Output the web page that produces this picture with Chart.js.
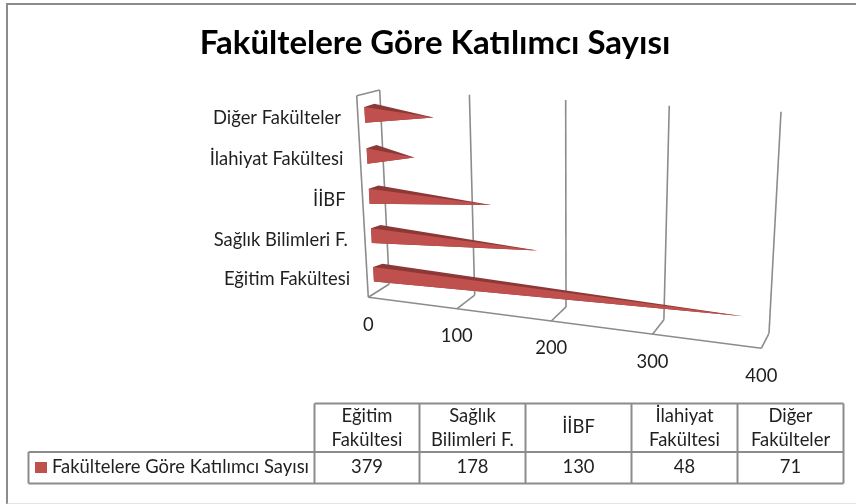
<!DOCTYPE html>
<html>
<head>
<meta charset="utf-8">
<title>Fakültelere Göre Katılımcı Sayısı</title>
<script src="https://cdn.jsdelivr.net/npm/chart.js@4"></script>
<style>
  html, body { margin: 0; background: #fff; }
  #wrap { position: relative; width: 856px; height: 504px; overflow: hidden; }
  #myChart { filter: blur(0.5px); }
  #frame { position: absolute; left: 6px; top: 3px; width: 860px; height: 498px;
           border: 2px solid #8c8c8c; border-bottom-color: #e4e4e4; }
</style>
</head>
<body>
<div id="wrap">
  <canvas id="myChart" width="856" height="504"></canvas>
  <div id="frame"></div>
</div>
<script>
const titleText = 'Fakültelere Göre Katılımcı Sayısı';
const seriesName = 'Fakültelere Göre Katılımcı Sayısı';
const categories = ['Eğitim Fakültesi', 'Sağlık Bilimleri F.', 'İİBF', 'İlahiyat Fakültesi', 'Diğer Fakülteler'];
const values = [379, 178, 130, 48, 71];
const tableHeaders = [['Eğitim', 'Fakültesi'], ['Sağlık', 'Bilimleri F.'], ['İİBF'], ['İlahiyat', 'Fakültesi'], ['Diğer', 'Fakülteler']];

const FONT = 'Lato, Carlito, sans-serif';
const TEXT_COLOR = '#1f1f1f';
const GRID_COLOR = '#8c8c8c';

// corners of the 3D box on screen: top-left, top-right, bottom-right, bottom-left
const frontPlane = [[356.7, 95.7], [772.5, 118.2], [761.3, 348.3], [368.3, 297.3]];
const backPlane = [[379.7, 90], [781, 111.7], [769, 333.3], [389.3, 284]];
const barDepth = [0.3, 0.74];
const barTopRise = 3.2; // how far the back edge of a pyramid sits above its front edge

// table geometry
const colX = [314.5, 419.5, 525.5, 631.5, 737.5, 843.5];
const rowY = [403.5, 452, 483.5];
const tableLeft = 28.5;

function homography(q) {
  const [[x0, y0], [x1, y1], [x2, y2], [x3, y3]] = q;
  const dx1 = x1 - x2, dx2 = x3 - x2, sx = x0 - x1 + x2 - x3;
  const dy1 = y1 - y2, dy2 = y3 - y2, sy = y0 - y1 + y2 - y3;
  const den = dx1 * dy2 - dx2 * dy1;
  const g = (sx * dy2 - dx2 * sy) / den;
  const h = (dx1 * sy - sx * dy1) / den;
  const a = x1 - x0 + g * x1, b = x3 - x0 + h * x3;
  const d = y1 - y0 + g * y1, e = y3 - y0 + h * y3;
  return (u, v) => {
    const w = g * u + h * v + 1;
    return [(a * u + b * v + x0) / w, (d * u + e * v + y0) / w];
  };
}
const front = homography(frontPlane);
const back = homography(backPlane);

// scale pixels -> screen position, depth 0 = front of the box, 1 = back wall
function project(chart, px, py, depth) {
  const area = chart.chartArea;
  const u = (px - area.left) / area.width;
  const v = (py - area.top) / area.height;
  const f = front(u, v), b = back(u, v);
  return [f[0] + (b[0] - f[0]) * depth, f[1] + (b[1] - f[1]) * depth];
}

function line(ctx, a, b) {
  ctx.beginPath();
  ctx.moveTo(a[0], a[1]);
  ctx.lineTo(b[0], b[1]);
  ctx.stroke();
}

function poly(ctx, pts, color) {
  ctx.fillStyle = color;
  ctx.beginPath();
  pts.forEach((p, i) => i ? ctx.lineTo(p[0], p[1]) : ctx.moveTo(p[0], p[1]));
  ctx.closePath();
  ctx.fill();
}

const box3d = {
  id: 'box3d',
  beforeDatasetsDraw(chart) {
    const ctx = chart.ctx, area = chart.chartArea, xs = chart.scales.x, ys = chart.scales.y;
    ctx.save();
    ctx.strokeStyle = GRID_COLOR;
    ctx.lineWidth = 1.6;

    // back wall and floor lines
    xs.ticks.forEach(t => {
      const px = xs.getPixelForValue(t.value);
      line(ctx, project(chart, px, area.top, 1), project(chart, px, area.bottom, 1));
      line(ctx, project(chart, px, area.bottom, 1), project(chart, px, area.bottom, 0));
    });
    // left wall and front edge of the floor
    line(ctx, project(chart, area.left, area.top, 1), project(chart, area.left, area.top, 0));
    line(ctx, project(chart, area.left, area.top, 0), project(chart, area.left, area.bottom, 0));
    line(ctx, project(chart, area.left, area.bottom, 0), project(chart, area.right, area.bottom, 0));

    // pyramids, back ones first
    const bars = chart.getDatasetMeta(0).data;
    const dataset = chart.data.datasets[0];
    bars.forEach(bar => {
      const top = bar.y - bar.height / 2, bottom = bar.y + bar.height / 2;
      const apex = project(chart, bar.x, bar.y, (barDepth[0] + barDepth[1]) / 2);
      const a = project(chart, bar.base, top, barDepth[0]);
      const b = project(chart, bar.base, bottom, barDepth[0]);
      const c = [project(chart, bar.base, top, barDepth[1])[0], a[1] - barTopRise];
      // dark face runs under the front face so no seam shows between them
      poly(ctx, [c, apex, b, a], dataset.topColor);
      poly(ctx, [a, b, apex], dataset.backgroundColor);
    });

    // axis labels
    ctx.fillStyle = TEXT_COLOR;
    ctx.font = '18.4px ' + FONT;
    ctx.textBaseline = 'middle';
    ctx.textAlign = 'center';
    xs.ticks.forEach(t => {
      const p = project(chart, xs.getPixelForValue(t.value), area.bottom, 0);
      ctx.fillText(t.label, p[0], p[1] + 27.5);
    });
    ctx.textAlign = 'right';
    categories.forEach((name, i) => {
      const p = project(chart, area.left, ys.getPixelForValue(i), 0);
      ctx.fillText(name, p[0] - 17, p[1] + 1);
    });
    ctx.restore();
    return false; // native flat bars are replaced by the pyramids above
  },
  afterDraw(chart) {
    const ctx = chart.ctx, dataset = chart.data.datasets[0];
    ctx.save();
    ctx.strokeStyle = GRID_COLOR;
    ctx.lineWidth = 2;
    // data table under the chart
    line(ctx, [colX[0], rowY[0]], [colX[5], rowY[0]]);
    line(ctx, [tableLeft, rowY[1]], [colX[5], rowY[1]]);
    line(ctx, [tableLeft, rowY[2]], [colX[5], rowY[2]]);
    line(ctx, [tableLeft, rowY[1]], [tableLeft, rowY[2]]);
    colX.forEach(x => line(ctx, [x, rowY[0]], [x, rowY[2]]));

    ctx.fillStyle = TEXT_COLOR;
    ctx.font = '18.4px ' + FONT;
    ctx.textBaseline = 'middle';
    ctx.textAlign = 'center';
    tableHeaders.forEach((lines, i) => {
      const cx = (colX[i] + colX[i + 1]) / 2;
      if (lines.length === 1) {
        ctx.fillText(lines[0], cx, 427);
      } else {
        ctx.fillText(lines[0], cx, 416.5);
        ctx.fillText(lines[1], cx, 440);
      }
      ctx.fillText(String(values[i]), cx, 467.5);
    });
    ctx.textAlign = 'left';
    ctx.fillText(seriesName, 52, 467.5);
    ctx.fillStyle = dataset.backgroundColor;
    ctx.fillRect(35, 462, 12, 11);
    ctx.restore();
  }
};

const config = {
  type: 'bar',
  data: {
    labels: categories,
    datasets: [{
      label: seriesName,
      data: values,
      backgroundColor: '#c0504d',
      topColor: '#8c3836',
      barPercentage: 0.38,
      categoryPercentage: 1
    }]
  },
  options: {
    indexAxis: 'y',
    responsive: false,
    animation: false,
    layout: { padding: { left: 14 } },
    plugins: {
      legend: { display: false },
      tooltip: { enabled: false },
      title: {
        display: true,
        fullSize: false,
        text: titleText,
        color: '#000',
        font: { family: FONT, size: 33, weight: 'bold' },
        padding: { top: 24, bottom: 10 }
      }
    },
    scales: {
      x: { display: false, min: 0, max: 400, ticks: { stepSize: 100 } },
      y: { display: false, reverse: true }
    }
  },
  plugins: [box3d]
};

const myChart = new Chart(document.getElementById('myChart'), config);
</script>
</body>
</html>
